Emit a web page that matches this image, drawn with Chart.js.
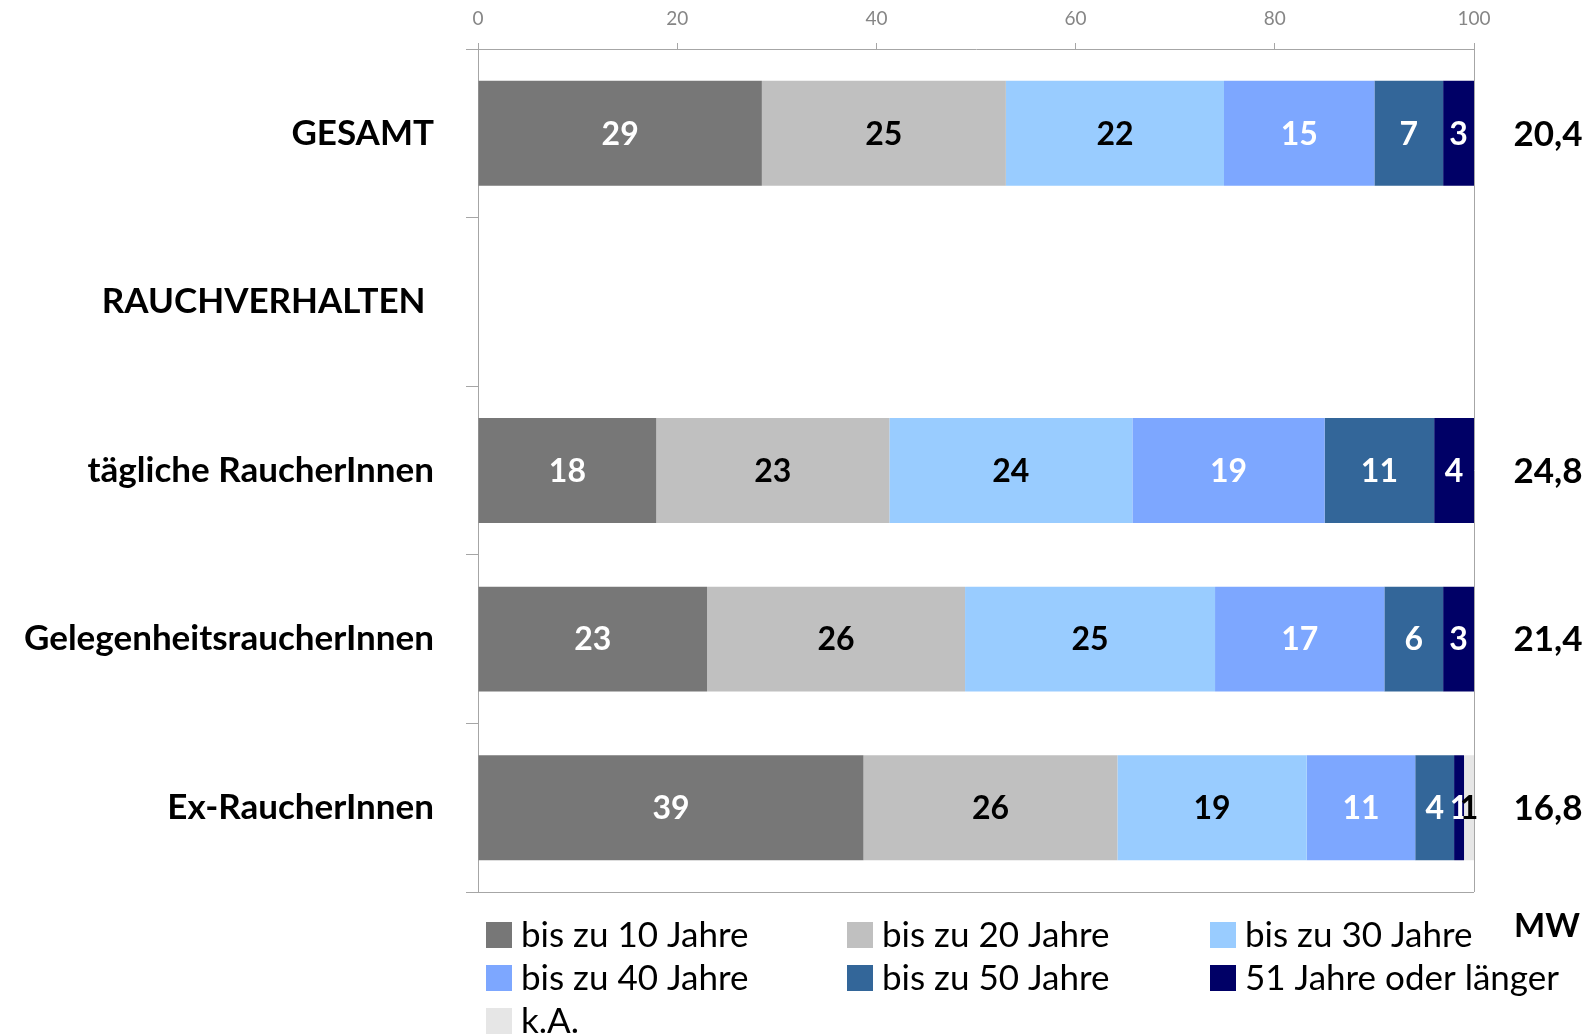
<!DOCTYPE html>
<html><head><meta charset="utf-8">
<script src="https://cdn.jsdelivr.net/npm/chart.js@4.4.1/dist/chart.umd.min.js"></script>
<style>html,body{margin:0;padding:0;background:#fff;}#wrap{width:1594px;height:1034px;}</style>
</head><body><div id="wrap"><canvas id="c" width="1594" height="1034"></canvas></div>
<script>
const categories = ['GESAMT', 'RAUCHVERHALTEN ', 'tägliche RaucherInnen', 'GelegenheitsraucherInnen', 'Ex-RaucherInnen'];
const seriesNames = ['bis zu 10 Jahre', 'bis zu 20 Jahre', 'bis zu 30 Jahre', 'bis zu 40 Jahre', 'bis zu 50 Jahre', '51 Jahre oder länger', 'k.A.'];
const s10 = [28.5, null, 17.9, 23.0, 38.7];
const s20 = [24.5, null, 23.4, 25.9, 25.5];
const s30 = [21.9, null, 24.4, 25.1, 19.0];
const s40 = [15.1, null, 19.3, 17.0, 10.9];
const s50 = [6.9, null, 11.0, 5.9, 3.9];
const s51 = [3.1, null, 4.0, 3.1, 1.0];
const sKA = [0, null, 0, 0, 1.0];
const mwValues = ['20,4', '', '24,8', '21,4', '16,8'];
const mwTitle = 'MW';
const xTicks = [0, 20, 40, 60, 80, 100];

const seriesData = [s10, s20, s30, s40, s50, s51, sKA];
const colors = ['#777777', '#C0C0C0', '#99CCFF', '#7DA7FF', '#336699', '#000066', '#E6E6E6'];
const labelColors = ['#FFFFFF', '#000000', '#000000', '#FFFFFF', '#FFFFFF', '#FFFFFF', '#000000'];
const axisGray = '#A6A6A6';
const FONT = 'Lato';

const datasets = seriesData.map((d, i) => ({
  label: seriesNames[i],
  data: d,
  backgroundColor: colors[i],
  borderWidth: 0,
  barPercentage: 0.622,
  categoryPercentage: 1.0
}));

const extrasPlugin = {
  id: 'extras',
  afterDatasetsDraw(chart) {
    const ctx = chart.ctx;
    const ca = chart.chartArea;
    ctx.save();
    ctx.strokeStyle = axisGray;
    ctx.lineWidth = 1;
    ctx.beginPath();
    ctx.moveTo(Math.round(ca.right) + 0.5, ca.top);
    ctx.lineTo(Math.round(ca.right) + 0.5, ca.bottom);
    ctx.moveTo(ca.left, Math.round(ca.bottom) + 0.5);
    ctx.lineTo(ca.right, Math.round(ca.bottom) + 0.5);
    ctx.stroke();
    // data labels
    ctx.font = 'bold 32px ' + FONT;
    ctx.textAlign = 'center';
    ctx.textBaseline = 'middle';
    chart.data.datasets.forEach((ds, i) => {
      const meta = chart.getDatasetMeta(i);
      meta.data.forEach((bar, j) => {
        const v = ds.data[j];
        if (!v) return;
        ctx.fillStyle = labelColors[i];
        ctx.fillText(String(Math.round(v)), (bar.base + bar.x) / 2, bar.y + 1);
      });
    });
    // MW values
    const yScale = chart.scales.y;
    ctx.fillStyle = '#000';
    ctx.font = 'bold 35px ' + FONT;
    mwValues.forEach((m, j) => {
      if (!m) return;
      ctx.fillText(m, 1548, yScale.getPixelForValue(j) + 1);
    });
    // custom legend grid
    const colX = [486, 847, 1210];
    const rowY = [935, 978, 1021];
    ctx.textAlign = 'left';
    ctx.font = '35px ' + FONT;
    seriesNames.forEach((name, i) => {
      const cx = colX[i % 3];
      const cy = rowY[Math.floor(i / 3)];
      ctx.fillStyle = colors[i];
      ctx.fillRect(cx, cy - 13, 26, 26);
      ctx.fillStyle = '#000';
      ctx.fillText(name, cx + 35, cy + 1);
    });
    ctx.font = 'bold 33px ' + FONT;
    ctx.textAlign = 'center';
    ctx.fillText(mwTitle, 1547, 926);
    ctx.restore();
  }
};

new Chart(document.getElementById('c'), {
  type: 'bar',
  data: { labels: categories, datasets },
  options: {
    indexAxis: 'y',
    responsive: false,
    animation: false,
    layout: { padding: { left: 0, top: 0, right: 120, bottom: 142 } },
    plugins: { legend: { display: false }, tooltip: { enabled: false } },
    scales: {
      x: {
        type: 'linear',
        position: 'top',
        stacked: true,
        min: 0,
        max: 100,
        afterBuildTicks: s => { s.ticks = xTicks.map(v => ({ value: v })); },
        afterFit: s => { s.height = 49; s.paddingLeft = 0; s.paddingRight = 0; },
        ticks: { color: '#868686', font: { family: FONT, size: 19 }, padding: 13 },
        grid: { drawOnChartArea: false, drawTicks: true, tickLength: 6, color: axisGray },
        border: { display: true, color: axisGray }
      },
      y: {
        type: 'category',
        stacked: true,
        afterFit: s => { s.width = 478; s.paddingTop = 0; s.paddingBottom = 0; },
        ticks: { color: '#000', font: { family: FONT, size: 35, weight: 'bold' }, padding: 32 },
        grid: { offset: true, drawOnChartArea: false, drawTicks: true, tickLength: 12, color: axisGray },
        border: { display: true, color: axisGray }
      }
    }
  },
  plugins: [extrasPlugin]
});
</script>
</body></html>
